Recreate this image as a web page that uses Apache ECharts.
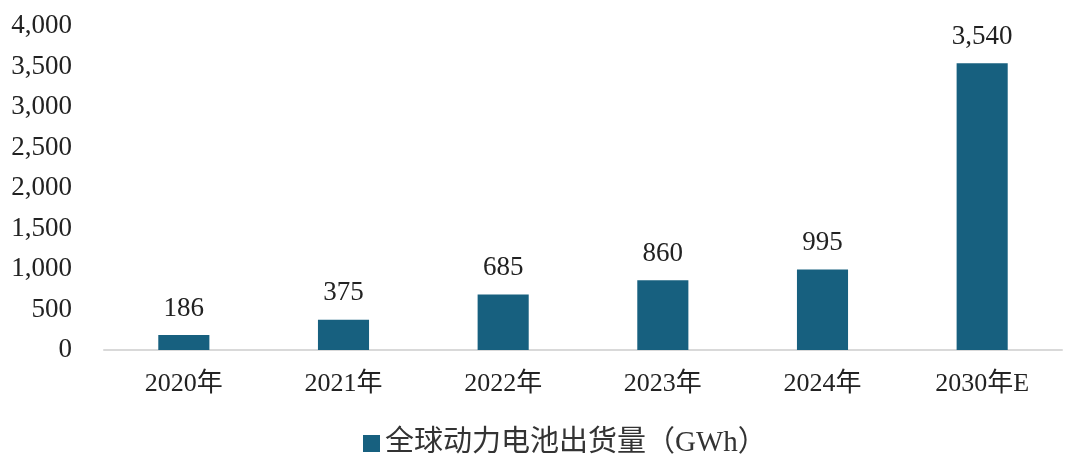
<!DOCTYPE html>
<html>
<head>
<meta charset="utf-8">
<script src="https://cdn.jsdelivr.net/npm/echarts@6/dist/echarts.min.js"></script>
<style>
  html, body { margin: 0; padding: 0; background: #fff; }
  #main { width: 1065px; height: 458px; }
</style>
</head>
<body>
<div id="main"></div>
<script>
  // 全球动力电池出货量
  var years = ['2020年', '2021年', '2022年', '2023年', '2024年', '2030年E'];
  var shipment = [186, 375, 685, 860, 995, 3540];
  var seriesName = '全球动力电池出货量（GWh）';

  var font = '"Liberation Serif", "Times New Roman", "Noto Sans CJK SC", serif';

  function fmt(v) {
    return Number(v).toLocaleString('en-US');
  }

  var chart = echarts.init(document.getElementById('main'));
  chart.setOption({
    animation: false,
    grid: { left: 104, right: 3, top: 26, bottom: 108 },
    legend: {
      top: 424,
      left: 358,
      itemWidth: 17,
      itemHeight: 17,
      itemGap: 6,
      icon: 'rect',
      textStyle: { fontFamily: font, fontSize: 29, color: '#333' },
      data: [seriesName]
    },
    xAxis: {
      type: 'category',
      data: years,
      axisLine: { lineStyle: { color: '#d9d9d9', width: 2 } },
      axisTick: { show: false },
      axisLabel: { fontFamily: font, fontSize: 26, color: '#222', margin: 21 }
    },
    yAxis: {
      type: 'value',
      min: 0,
      max: 4000,
      interval: 500,
      splitLine: { show: false },
      axisLine: { show: false },
      axisTick: { show: false },
      axisLabel: {
        fontFamily: font, fontSize: 27, color: '#222', margin: 32,
        formatter: fmt
      }
    },
    series: [{
      name: seriesName,
      type: 'bar',
      data: shipment,
      barWidth: '32%',
      itemStyle: { color: '#17607f' },
      label: {
        show: true,
        position: 'top',
        distance: 13,
        fontFamily: font,
        fontSize: 27,
        color: '#222',
        formatter: function (p) { return fmt(p.value); }
      }
    }]
  });
</script>
</body>
</html>
